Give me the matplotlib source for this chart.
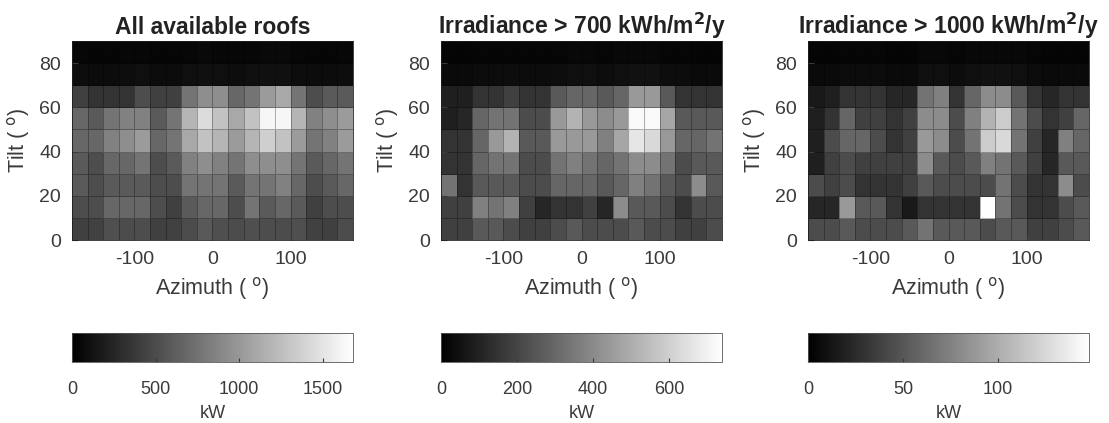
import numpy as np
import matplotlib.pyplot as plt

plt.rcParams['font.family'] = ['Liberation Sans', 'DejaVu Sans']
plt.rcParams['axes.unicode_minus'] = False

# bin edges (deg)
azimuth_edges = np.arange(-180, 181, 20)
tilt_edges = np.arange(0, 91, 10)

# installed capacity per bin (kW), rows = tilt 0-10 ... 80-90, cols = azimuth -180 ... 180
all_roofs = np.array([
    [420, 430, 520, 500, 510, 420, 430, 500, 590, 520, 500, 520, 510, 500, 520, 430, 420, 500],
    [510, 510, 680, 680, 680, 510, 425, 595, 680, 680, 510, 765, 595, 680, 595, 425, 510, 510],
    [595, 510, 595, 595, 595, 510, 510, 765, 765, 765, 595, 765, 765, 850, 680, 510, 595, 680],
    [595, 510, 680, 680, 765, 510, 595, 850, 935, 850, 765, 935, 935, 935, 765, 595, 680, 765],
    [680, 680, 850, 935, 1020, 680, 765, 1105, 1275, 1190, 1020, 1190, 1360, 1275, 1020, 765, 850, 1020],
    [680, 595, 765, 850, 850, 595, 765, 1190, 1445, 1275, 1105, 1275, 1615, 1615, 1190, 850, 935, 1020],
    [425, 340, 340, 340, 510, 425, 425, 765, 935, 935, 680, 765, 1020, 1105, 765, 510, 595, 595],
    [90, 80, 80, 90, 100, 80, 80, 100, 110, 100, 90, 100, 110, 110, 90, 80, 80, 90],
    [50, 40, 40, 50, 50, 40, 40, 50, 60, 50, 50, 50, 60, 60, 50, 40, 40, 50],
])

irr_700 = np.array([
    [185, 185, 260, 260, 220, 185, 185, 220, 260, 220, 220, 220, 260, 220, 220, 185, 185, 220],
    [185, 185, 370, 335, 370, 185, 110, 150, 150, 185, 110, 405, 260, 260, 220, 150, 220, 220],
    [335, 150, 260, 260, 260, 220, 220, 295, 295, 295, 260, 295, 370, 335, 260, 220, 405, 260],
    [150, 150, 295, 335, 335, 220, 220, 335, 370, 335, 295, 335, 405, 405, 335, 220, 260, 260],
    [150, 150, 295, 445, 520, 260, 260, 445, 445, 445, 370, 480, 665, 630, 445, 295, 295, 335],
    [90, 110, 295, 335, 335, 220, 220, 445, 520, 445, 405, 445, 720, 720, 480, 260, 260, 260],
    [90, 90, 150, 150, 185, 150, 150, 260, 295, 295, 260, 295, 445, 445, 260, 150, 150, 150],
    [30, 30, 35, 35, 40, 35, 35, 40, 45, 45, 40, 45, 50, 50, 40, 35, 30, 30],
    [15, 15, 20, 20, 20, 20, 20, 20, 25, 25, 20, 25, 25, 25, 20, 20, 15, 15],
])

irr_1000 = np.array([
    [44, 44, 52, 44, 44, 44, 52, 67, 52, 52, 52, 44, 52, 52, 37, 37, 44, 52],
    [22, 22, 89, 52, 52, 30, 15, 30, 30, 30, 30, 148, 67, 44, 30, 30, 44, 52],
    [44, 37, 44, 30, 30, 30, 37, 52, 44, 44, 44, 44, 67, 44, 30, 30, 81, 44],
    [18, 37, 44, 37, 37, 37, 37, 81, 52, 44, 52, 74, 67, 52, 37, 22, 52, 52],
    [18, 44, 59, 59, 44, 30, 37, 89, 81, 44, 67, 118, 126, 67, 37, 22, 74, 59],
    [18, 30, 59, 37, 37, 30, 37, 81, 81, 44, 74, 104, 118, 67, 44, 30, 37, 59],
    [15, 18, 30, 30, 30, 22, 22, 67, 74, 30, 59, 81, 81, 52, 30, 22, 30, 30],
    [6, 6, 7, 7, 7, 6, 6, 9, 9, 7, 9, 10, 10, 9, 7, 6, 6, 6],
    [3, 3, 4, 4, 4, 3, 3, 5, 5, 4, 5, 5, 5, 5, 4, 3, 3, 3],
])

titles = ['All available roofs',
          r'Irradiance > 700 kWh/m$^\mathbf{2}$/y',
          r'Irradiance > 1000 kWh/m$^\mathbf{2}$/y']
vmax_list = [1680, 740, 148]
cbar_ticks = [[0, 500, 1000, 1500], [0, 200, 400, 600], [0, 50, 100]]
datasets = [all_roofs, irr_700, irr_1000]

W, H = 1109, 423
fig = plt.figure(figsize=(W / 100, H / 100), dpi=100)
txt = '#3a3a3a'

lefts = [72, 441, 808]
for i in range(3):
    l = lefts[i]
    ax = fig.add_axes([l / W, 1 - 240 / H, 281 / W, 199 / H])
    m = ax.pcolormesh(azimuth_edges, tilt_edges, datasets[i], cmap='gray',
                      vmin=0, vmax=vmax_list[i], edgecolors=(0, 0, 0, 0.3), linewidth=0.5)
    ax.set_xlim(-180, 180)
    ax.set_ylim(0, 90)
    ax.set_xticks([-100, 0, 100])
    ax.set_yticks([0, 20, 40, 60, 80])
    ax.tick_params(direction='in', colors=txt, labelsize=14, pad=8, length=4)
    for s in ax.spines.values():
        s.set_color('#222222')
        s.set_linewidth(0.6)
    ax.set_title(titles[i], fontsize=16.5, fontweight='bold', color='#222222', pad=5)
    ax.set_xlabel(r'Azimuth ( $^{\mathrm{o}}$)', fontsize=15.5, color=txt, labelpad=5)
    ax.set_ylabel(r'Tilt ( $^{\mathrm{o}}$)', fontsize=15.5, color=txt, labelpad=5)

    cax = fig.add_axes([l / W, 1 - 362 / H, 281 / W, 29 / H])
    cb = fig.colorbar(m, cax=cax, orientation='horizontal')
    cb.set_ticks(cbar_ticks[i])
    cb.ax.tick_params(direction='in', colors=txt, labelsize=13, pad=14, length=3)
    cb.outline.set_edgecolor('#555555')
    cb.outline.set_linewidth(0.6)
    cb.set_label('kW', fontsize=13, color=txt, labelpad=5)

fig.savefig('out.png', dpi=100, facecolor='white')
